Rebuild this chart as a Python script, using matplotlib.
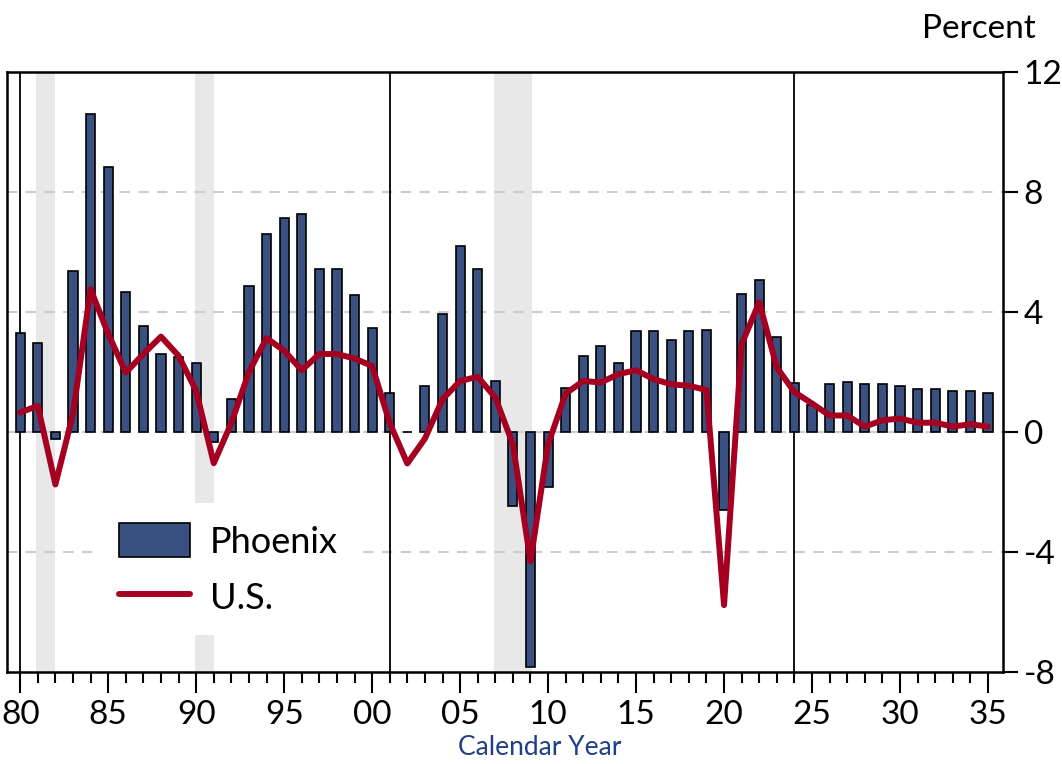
import numpy as np
import matplotlib
matplotlib.use('Agg')
import matplotlib.pyplot as plt

plt.rcParams['font.family'] = ['Lato', 'DejaVu Sans']

# employment growth, percent, calendar years 1980-2035
years = np.arange(1980, 2036)
phoenix = [3.3, 2.95, -0.22, 5.36, 10.6, 8.84, 4.66, 3.53, 2.6, 2.5,
           2.3, -0.33, 1.11, 4.88, 6.6, 7.13, 7.25, 5.42, 5.42, 4.58,
           3.48, 1.29, 0.0, 1.54, 3.94, 6.19, 5.42, 1.71, -2.47, -7.83,
           -1.83, 1.48, 2.53, 2.88, 2.3, 3.35, 3.35, 3.07, 3.35, 3.41,
           -2.59, 4.59, 5.05, 3.18, 1.64, 0.9, 1.59, 1.65, 1.59, 1.59,
           1.54, 1.42, 1.42, 1.35, 1.35, 1.29]
us = [0.65, 0.87, -1.75, 0.6, 4.76, 3.27, 1.98, 2.6, 3.18, 2.54,
      1.37, -1.04, 0.3, 2.0, 3.13, 2.71, 2.06, 2.6, 2.6, 2.45,
      2.2, 0.3, -1.05, -0.22, 1.09, 1.7, 1.84, 1.15, -0.41, -4.31,
      -0.41, 1.28, 1.7, 1.65, 1.93, 2.06, 1.76, 1.59, 1.54, 1.4,
      -5.77, 2.93, 4.32, 2.15, 1.33, 0.95, 0.55, 0.55, 0.18, 0.39,
      0.45, 0.31, 0.31, 0.18, 0.26, 0.18]
recessions = [(1980.9, 1982.0), (1989.95, 1991.0), (2006.95, 2009.1)]
markers = [1980, 2001, 2024]
yticks = [-8, -4, 0, 4, 8, 12]

bar_color = '#3a5080'
line_color = '#a50021'

fig = plt.figure(figsize=(10.62, 7.64), dpi=100)
ax = fig.add_axes([0.0066, 0.1204, 0.9378, 0.7854])

for a, b in recessions:
    ax.axvspan(a, b, color='#e8e8e8', lw=0, zorder=0)

for v in [-4, 0, 4, 8]:
    ax.axhline(v, color='#cccccc', lw=1.5, ls=(0, (5, 4)), zorder=1)

for m in markers:
    ax.axvline(m, color='black', lw=1.3, zorder=1.5)

bars = ax.bar(years, phoenix, width=0.52, color=bar_color, edgecolor='black',
              linewidth=1.2, zorder=2, label='Phoenix')
line, = ax.plot(years, us, color=line_color, lw=4.3, solid_capstyle='round',
                zorder=3, label='U.S.')

ax.set_xlim(1979.25, 2035.85)
ax.set_ylim(-8, 12)

ax.yaxis.tick_right()
ax.set_yticks(yticks)
ax.set_yticklabels([str(t) for t in yticks])
ax.tick_params(axis='y', which='major', direction='out', length=11, width=1.5,
               labelsize=24, pad=4)

ax.set_xticks(np.arange(1980, 2036, 5))
ax.set_xticklabels([f'{y % 100:02d}' for y in range(1980, 2036, 5)])
ax.set_xticks(years, minor=True)
ax.tick_params(axis='x', which='major', direction='out', length=15, width=1.5,
               labelsize=24, pad=5)
ax.tick_params(axis='x', which='minor', direction='out', length=8, width=1.5)

for s in ax.spines.values():
    s.set_linewidth(1.8)

fig.text(0.508, 0.021, 'Calendar Year', color='#1f3f8c', fontsize=19,
         ha='center', va='center')
fig.text(0.922, 0.982, 'Percent', fontsize=24, ha='center', va='top')

leg = ax.legend([bars, line], ['Phoenix', 'U.S.'], loc='lower left',
                bbox_to_anchor=(0.093, 0.062), borderaxespad=0, fontsize=26,
                handlelength=1.95, handleheight=1.08, handletextpad=0.55,
                labelspacing=0.58, borderpad=0.55, frameon=True,
                fancybox=False)
leg.get_frame().set_facecolor('white')
leg.get_frame().set_edgecolor('none')
leg.get_frame().set_alpha(1)
leg.set_zorder(5)

fig.savefig('out.png', dpi=100)
